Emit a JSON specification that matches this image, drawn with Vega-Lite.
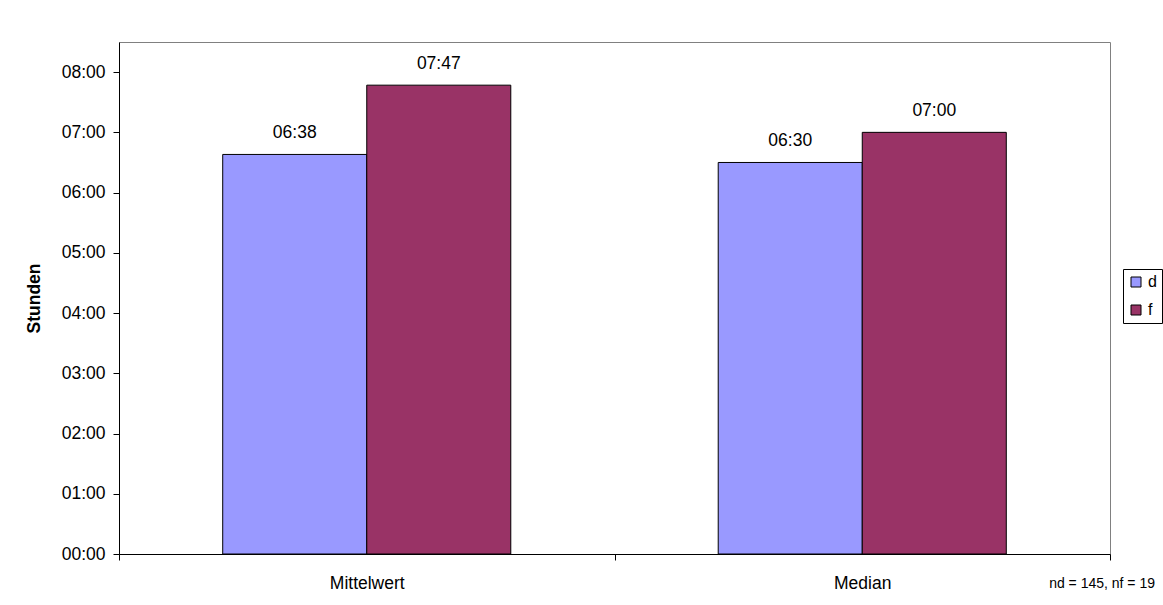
{
  "$schema": "https://vega.github.io/schema/vega-lite/v6.json",
  "autosize": "none",
  "width": 991,
  "height": 512,
  "padding": {"left": 119, "top": 42, "right": 53, "bottom": 51},
  "background": "white",
  "data": {
    "values": [
      {"kategorie": "Mittelwert", "gruppe": "d", "minuten": 398, "zeit": "06:38"},
      {"kategorie": "Mittelwert", "gruppe": "f", "minuten": 467, "zeit": "07:47"},
      {"kategorie": "Median", "gruppe": "d", "minuten": 390, "zeit": "06:30"},
      {"kategorie": "Median", "gruppe": "f", "minuten": 420, "zeit": "07:00"}
    ]
  },
  "encoding": {
    "x": {
      "field": "kategorie",
      "type": "nominal",
      "sort": ["Mittelwert", "Median"],
      "scale": {"paddingInner": 0, "paddingOuter": 0},
      "axis": {
        "title": null,
        "labelAngle": 0,
        "tickBand": "extent",
        "tickSize": 6,
        "labelPadding": 14,
        "domainColor": "black",
        "tickColor": "black",
        "labelFontSize": 17.5,
        "labelColor": "black"
      }
    },
    "xOffset": {
      "field": "gruppe",
      "type": "nominal",
      "scale": {"paddingInner": 0, "paddingOuter": 0.72}
    },
    "y": {
      "field": "minuten",
      "type": "quantitative",
      "scale": {"domain": [0, 510], "nice": false, "zero": true},
      "axis": {
        "title": "Stunden",
        "values": [0, 60, 120, 180, 240, 300, 360, 420, 480],
        "labelExpr": "utcFormat(datum.value * 60000, '%H:%M')",
        "grid": false,
        "tickSize": 6,
        "labelPadding": 8,
        "domainColor": "black",
        "tickColor": "black",
        "labelFontSize": 17.5,
        "labelColor": "black",
        "titleFontSize": 17.5,
        "titleFontWeight": "bold",
        "titleColor": "black",
        "titlePadding": 18
      }
    }
  },
  "layer": [
    {
      "mark": {"type": "bar", "stroke": "black", "strokeWidth": 1},
      "encoding": {
        "color": {
          "field": "gruppe",
          "type": "nominal",
          "scale": {"domain": ["d", "f"], "range": ["#9999FF", "#993366"]},
          "legend": {"title": null}
        }
      }
    },
    {
      "mark": {"type": "text", "baseline": "middle", "dy": -21, "fontSize": 17.5, "color": "black"},
      "encoding": {
        "text": {"field": "zeit", "type": "nominal"}
      }
    }
  ],
  "title": {
    "text": "nd = 145, nf = 19",
    "orient": "bottom",
    "anchor": "end",
    "frame": "group",
    "offset": -15,
    "dx": 45,
    "fontSize": 14,
    "fontWeight": "normal",
    "color": "black"
  },
  "config": {
    "font": "Liberation Sans",
    "view": {"stroke": "#808080", "strokeWidth": 1},
    "legend": {
      "orient": "none",
      "legendX": 1004,
      "legendY": 227,
      "strokeColor": "black",
      "fillColor": "white",
      "padding": 5,
      "labelFontSize": 16,
      "labelColor": "black",
      "labelOffset": 4,
      "symbolType": "square",
      "symbolSize": 100,
      "symbolStrokeColor": "black",
      "symbolStrokeWidth": 1,
      "symbolOpacity": 1,
      "rowPadding": 12
    }
  }
}
